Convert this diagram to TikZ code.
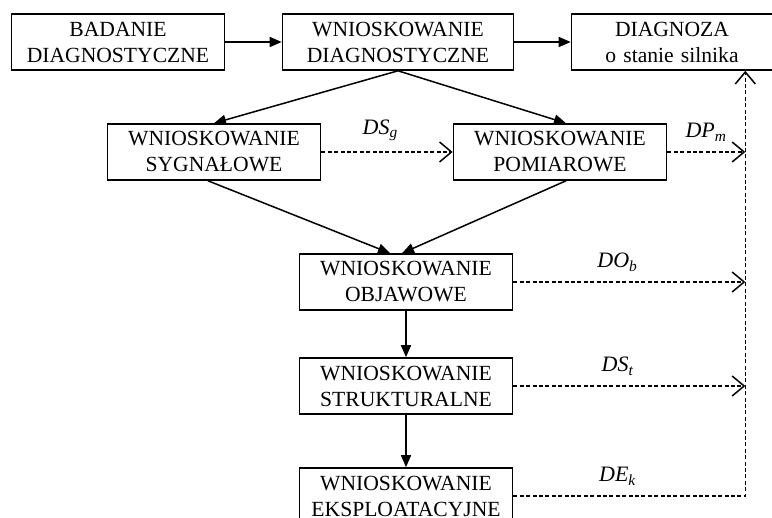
\documentclass[tikz,border=0pt]{standalone}
\usepackage{fontspec}
\setmainfont{Liberation Serif}
\usepackage{tikz}
\usetikzlibrary{calc,positioning,arrows,arrows.meta,shapes}
\tikzstyle{blok} = [rectangle, minimum width=106.5pt, minimum height=28pt, inner xsep=3pt, inner ysep=2pt, text centered, draw=black, line width=0.8pt, text width=100.5pt, font=\fontsize{10.8}{13}\selectfont]
\tikzstyle{arrow} = [line width=0.75pt,-{Triangle[length=6pt,width=5pt]}]
\tikzstyle{kreska} = [line width=0.75pt, dash pattern=on 2pt off 1.2pt, -{Straight Barb[length=6pt,width=10pt]}]
\tikzstyle{etykieta} = [font=\fontsize{11}{12}\selectfont\itshape, above, inner sep=5pt]

\begin{document}
\begin{tikzpicture}[node distance=55pt]
\useasboundingbox (-59pt,21pt) rectangle (327pt,-238pt);
 \node (badanie) [blok] {BADANIE\\DIAGNOSTYCZNE};
  \node (wnd) [blok,right of=badanie,xshift=85pt,minimum width=115.5pt,text width=109.5pt] {WNIOSKOWANIE\\DIAGNOSTYCZNE};
  \node (diagnoza) [blok,right of=wnd,xshift=82pt,minimum width=100.5pt,text width=94.5pt] {DIAGNOZA\\o stanie silnika};
\node (sygnal) [blok,below of=badanie,xshift=48pt] {WNIOSKOWANIE\\SYGNAŁOWE};
\node (pomiar) [blok,right of=sygnal,xshift=118pt] {WNIOSKOWANIE\\POMIAROWE};
\node (objaw) [blok,below of=sygnal,xshift=96pt,yshift=-10pt] {WNIOSKOWANIE\\OBJAWOWE};
\node (struktur) [blok,below of=objaw,yshift=3pt] {WNIOSKOWANIE\\STRUKTURALNE};
\node (eksploat) [blok,below of=struktur] {WNIOSKOWANIE\\EKSPLOATACYJNE};
\coordinate (szyna) at ($(diagnoza.south east)+(-14pt,0)$);
\draw [arrow] (badanie) -- (wnd);
\draw [arrow] (wnd) -- (diagnoza);
\draw [arrow] (wnd.south) -- (sygnal.north);
\draw [arrow] (wnd.south) -- ([xshift=3pt]pomiar.north);
\draw [arrow] ([xshift=-3pt]sygnal.south) -- ([xshift=-8pt]objaw.north);
\draw [arrow] ([xshift=3pt]pomiar.south) -- ([xshift=-2pt]objaw.north);
\draw [arrow] (objaw) -- (struktur);
\draw [arrow] (struktur) -- (eksploat);
\draw [kreska] (sygnal) -- node[etykieta,pos=0.45] {DS\textsubscript{g}} (pomiar);
\draw [kreska] (pomiar.east) -- node[etykieta] {DP\textsubscript{m}} (pomiar.east -| szyna);
\draw [kreska] (objaw.east) -- node[etykieta,pos=0.45] {DO\textsubscript{b}} (objaw.east -| szyna);
\draw [kreska] (struktur.east) -- node[etykieta,pos=0.45] {DS\textsubscript{t}} (struktur.east -| szyna);
\draw [kreska] (eksploat.east) -- node[etykieta,pos=0.45] {DE\textsubscript{k}} (eksploat.east -| szyna) -- (szyna);
  \end{tikzpicture}
\end{document}
